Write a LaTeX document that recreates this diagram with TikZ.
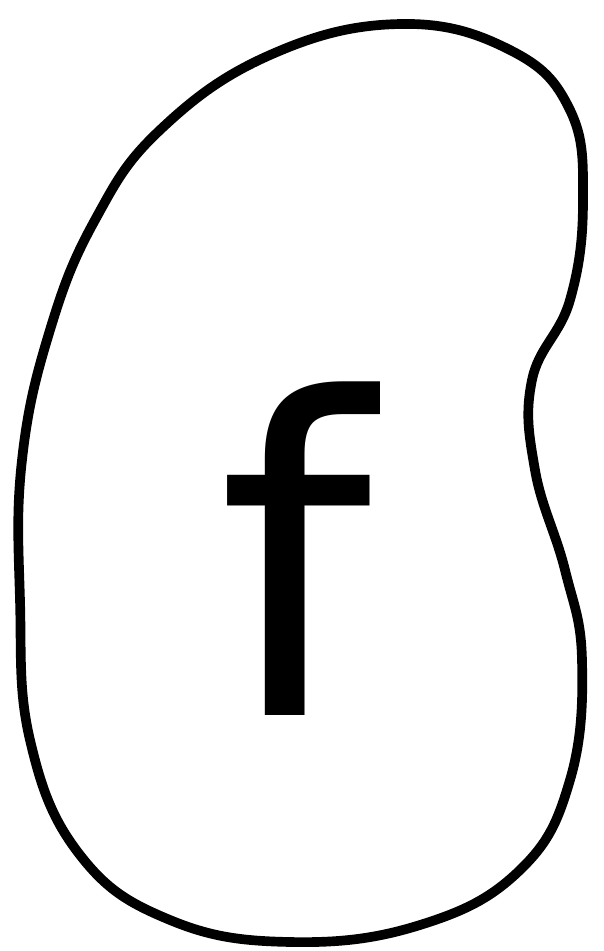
\documentclass[tikz,border=0pt]{standalone}
\usepackage{fontspec}
\newfontfamily\letterfont{DejaVu Sans}
\usetikzlibrary{positioning}

\begin{document}
\begin{tikzpicture}[x=0.02cm, y=-0.02cm]
                    \tikzstyle{blob} = [draw=black, line width=5.5pt, fill=white, line join=round]
                    \tikzstyle{letter} = [font=\letterfont\fontsize{250}{250}\selectfont, inner sep=0pt, anchor=base]

                    \useasboundingbox (0,0) rectangle (604,951);
                    % bean outline
                    \draw [blob] plot [smooth cycle, tension=0.7] coordinates {
                        (400,24) (510,50) (570,110) (583,200) (570,300) (532,380)
                        (535,470) (565,570) (582,660) (570,780) (520,870)
                        (420,925) (290,942) (170,920) (80,855) (30,740)
                        (20,600) (22,460) (50,330) (95,220) (160,130) (270,55)};
                    \node (fname) [letter] at (295,715) {f};
\end{tikzpicture}
\end{document}
